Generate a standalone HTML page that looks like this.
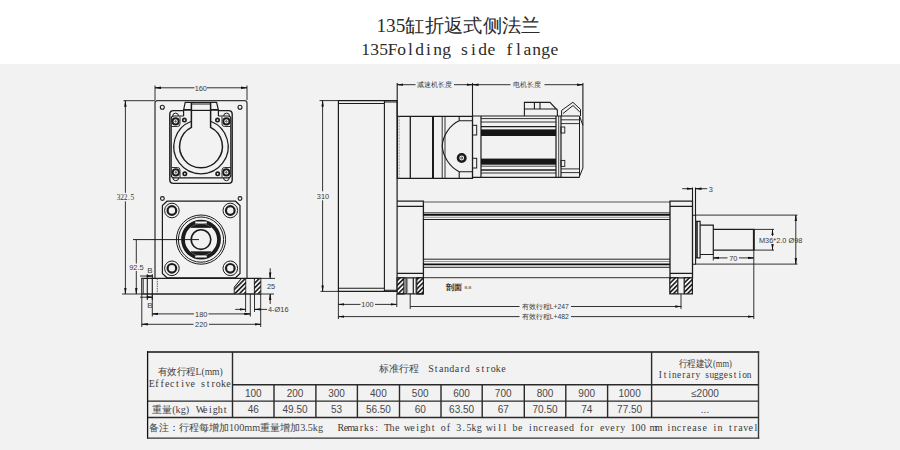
<!DOCTYPE html>
<html><head><meta charset="utf-8">
<style>
html,body{margin:0;padding:0;background:#fff;}
body{width:900px;height:450px;overflow:hidden;position:relative;}
svg{position:absolute;left:0;top:0;}
</style></head>
<body>
<svg width="900" height="450" viewBox="0 0 900 450">
<defs>
<marker id="ar" viewBox="0 0 10 4" refX="10" refY="2" markerWidth="6" markerHeight="3.2" orient="auto-start-reverse" markerUnits="userSpaceOnUse"><path d="M0,0L10,2L0,4z" fill="#111"/></marker>
<pattern id="hat" patternUnits="userSpaceOnUse" width="3.3" height="3.3" patternTransform="rotate(45)"><rect width="3.3" height="3.3" fill="#f4f4f4"/><line x1="0.8" y1="0" x2="0.8" y2="3.3" stroke="#111" stroke-width="1.5"/></pattern>
</defs>
<rect x="0" y="64" width="900" height="386" fill="#f2f2f2"/>
<g font-family="&quot;Liberation Serif&quot;, serif" fill="#2b2b2b">
<text x="376.4" y="32" font-size="19" textLength="164" lengthAdjust="spacingAndGlyphs">135缸折返式侧法兰</text>
</g>
<g font-family="Liberation Serif" font-size="17.5" fill="#2b2b2b" text-anchor="middle"><text x="365.50" y="54.6">1</text><text x="374.50" y="54.6">3</text><text x="383.50" y="54.6">5</text><text x="392.50" y="54.6">F</text><text x="401.50" y="54.6">o</text><text x="410.50" y="54.6">l</text><text x="419.50" y="54.6">d</text><text x="428.50" y="54.6">i</text><text x="437.50" y="54.6">n</text><text x="446.50" y="54.6">g</text><text x="464.50" y="54.6">s</text><text x="473.50" y="54.6">i</text><text x="482.50" y="54.6">d</text><text x="491.50" y="54.6">e</text><text x="509.50" y="54.6">f</text><text x="518.50" y="54.6">l</text><text x="527.50" y="54.6">a</text><text x="536.50" y="54.6">n</text><text x="545.50" y="54.6">g</text><text x="554.50" y="54.6">e</text></g>
<g font-family="Liberation Serif" font-size="7.4" fill="#333" text-anchor="middle"><text x="118.54" y="199.9">3</text><text x="122.02" y="199.9">2</text><text x="125.50" y="199.9">2</text><text x="128.98" y="199.9">.</text><text x="132.46" y="199.9">5</text></g>
<!-- LEFT VIEW -->
<g fill="none" stroke="#1c1c1c" stroke-width="1.2">
<!-- plate -->
<path d="M155,278.4V103Q155,100.7 157.3,100.7H244.7Q247,100.7 247,103V278.4" stroke="#3a3a3a" stroke-width="1.3"/>
<circle cx="162.3" cy="107.3" r="2" stroke-width="1.1"/><circle cx="240" cy="107.3" r="2" stroke-width="1.1"/>
<circle cx="162.4" cy="198.5" r="1.9" stroke-width="1.1"/><circle cx="240" cy="198.5" r="1.9" stroke-width="1.1"/>
<!-- socket housing outer -->
<path d="M183.6,110.6H173.4Q169.8,110.6 169.8,114.2V179.8Q169.8,183.4 173.4,183.4H228.6Q232.2,183.4 232.2,179.8V114.2Q232.2,110.6 228.6,110.6H218.4" stroke-width="1.4"/>
<path d="M183.6,116H174Q171.2,116 171.2,118.8V175Q171.2,177.8 174,177.8H228Q230.8,177.8 230.8,175V118.8Q230.8,116 228,116H218.4" stroke-width="1.2"/>
<!-- bumps -->
<path d="M172.7,116A2.9,2.9 0 0,1 178.5,116M223.7,116A2.9,2.9 0 0,1 229.5,116M172.9,177.8A2.9,2.9 0 0,0 178.7,177.8M223.5,177.8A2.9,2.9 0 0,0 229.3,177.8" stroke-width="1"/>
<!-- lid -->
<path d="M183.6,116V110L185.2,102.4H216.6L218.4,110V116" stroke-width="1.2"/>
<path d="M183.6,109.9H191.4M210.6,109.9H218.4" stroke-width="1.6"/>
<path d="M191.4,104H210.6" stroke-width="1"/>
<path d="M191.4,110.4H210.6" stroke-width="1.2"/>
<path d="M191.4,102.4V127.3A21.4,21.4 0 1,0 210.6,127.3V102.4" stroke-width="1.5"/>
<path d="M191.4,121.2A27.2,27.2 0 1,0 210.6,121.2" stroke-width="1.2"/>
<!-- screw pads -->
<path d="M180,116.5V124Q180,126.5 177.5,126.5H171.5M222,116.5V124Q222,126.5 224.5,126.5H230.5M180,177.3V170Q180,167.5 177.5,167.5H171.5M222,177.3V170Q222,167.5 224.5,167.5H230.5" stroke-width="0.9"/>
<circle cx="175.6" cy="121.4" r="3.1" stroke-width="1.9"/><circle cx="226.4" cy="121.4" r="3.1" stroke-width="1.9"/>
<circle cx="175.8" cy="172.4" r="3.1" stroke-width="1.9"/><circle cx="226.3" cy="172.4" r="3.1" stroke-width="1.9"/>
<circle cx="175.6" cy="121.4" r="0.7" stroke-width="0.8"/><circle cx="226.4" cy="121.4" r="0.7" stroke-width="0.8"/>
<circle cx="175.8" cy="172.4" r="0.7" stroke-width="0.8"/><circle cx="226.3" cy="172.4" r="0.7" stroke-width="0.8"/>
<circle cx="184.4" cy="120.1" r="1.7" stroke-width="1.6"/><circle cx="217.5" cy="120.1" r="1.7" stroke-width="1.6"/>
<circle cx="184.8" cy="173.8" r="1.7" stroke-width="1.6"/><circle cx="217.7" cy="173.8" r="1.7" stroke-width="1.6"/>
<!-- lower flange -->
<path d="M167,201.2H235.5L240,205.6V273.4L235.5,277.8H167L162.4,273.4V205.6Z" stroke-width="1.2"/>
<g stroke-width="1">
<circle cx="171.9" cy="210.5" r="7.3"/><circle cx="230.3" cy="210.5" r="7.3"/>
<circle cx="171.9" cy="268.3" r="7.3"/><circle cx="230.3" cy="268.3" r="7.3"/>
</g>
<g stroke-width="2.2">
<circle cx="171.9" cy="210.5" r="4.3"/><circle cx="230.3" cy="210.5" r="4.3"/>
<circle cx="171.9" cy="268.3" r="4.3"/><circle cx="230.3" cy="268.3" r="4.3"/>
</g>
<circle cx="201" cy="239.6" r="24.6" stroke-width="1"/>
<circle cx="201" cy="239.6" r="22.6" stroke-width="1"/>
<circle cx="201" cy="239.6" r="18" stroke-width="3.8"/>
<circle cx="201" cy="239.6" r="9.8" stroke-width="1.6"/>
<path d="M191,227.4H211A16,16 0 0,0 191,227.4ZM191,251.8H211A16,16 0 0,1 191,251.8Z" fill="#1c1c1c" stroke-width="0.8"/>
<path d="M195.2,222.6H206.8M195.2,256.6H206.8" stroke="#f2f2f2" stroke-width="2"/>
<!-- base plate -->
<path d="M141.8,278.4H260.7V294H141.8Z" stroke-width="1.2"/>
<path d="M143.4,278.4V294" stroke-width="1" stroke="#555"/>
<path d="M147.3,274.3V300M152.3,274.3V300" stroke-width="1.1"/>
<path d="M157.3,278.4V294" stroke-dasharray="1.6,0.8" stroke-width="0.9" stroke="#555"/>
<path d="M234.3,294V287.5L241.6,278.4" stroke-width="1.1"/>
<path d="M245.6,278.4V294M254.5,278.4V294" stroke-width="1.2"/>
</g>
<path d="M241.8,279H245.4V293.5H234.8V287.6Z" fill="url(#hat)"/>
<rect x="254.8" y="279" width="5.6" height="14.5" fill="url(#hat)"/>
<g fill="none" stroke="#1c1c1c" stroke-width="0.9">
<!-- dims left -->
<path d="M155,85.5V100M247,85.5V100"/>
<path d="M155,87.8H194.5M207,87.8H247"/>
<path d="M155,87.8H161" marker-start="url(#ar)"/><path d="M241,87.8H247" marker-end="url(#ar)"/>
<path d="M123.5,100.7H155"/>
<path d="M125.4,100.7V192.8M125.4,201.4V294"/>
<path d="M125.4,107V100.7" marker-end="url(#ar)"/><path d="M125.4,288V294" marker-end="url(#ar)"/>
<path d="M122,294H274"/>
<path d="M133,239.6H199" stroke-width="1"/>
<path d="M136.3,239.6V263.5M136.3,271V294"/><path d="M136.3,288V294" marker-end="url(#ar)"/>
<path d="M140,276H152.5"/><path d="M146.5,276H152.5" marker-end="url(#ar)"/>
<path d="M140,297.2H152.5"/><path d="M146.5,297.2H152.5" marker-end="url(#ar)"/>
<path d="M152.3,294V316.5M245.6,294V312M250.3,294V316.5M254.5,294V312M141.8,294V327M260.7,294V327"/>
<path d="M152.2,313.9H194M208.5,313.9H250.3"/><path d="M152.2,313.9H158" marker-start="url(#ar)"/><path d="M244.5,313.9H250.3" marker-end="url(#ar)"/>
<path d="M141.8,324.3H193.5M209,324.3H260.7"/><path d="M141.8,324.3H147.5" marker-start="url(#ar)"/><path d="M255,324.3H260.7" marker-end="url(#ar)"/>
<path d="M235.2,309.4H245.6"/><path d="M239.8,309.4H245.6" marker-end="url(#ar)"/>
<path d="M254.5,309.4H267"/><path d="M260.3,309.4H254.5" marker-end="url(#ar)"/>
<path d="M261,278.4H275"/>
<path d="M270.2,268.2V278.4"/><path d="M270.2,272.6V278.4" marker-end="url(#ar)"/>
<path d="M270.2,304V294"/><path d="M270.2,299.8V294" marker-end="url(#ar)"/>
</g>
<g font-family="Liberation Sans" font-size="7.4" fill="#3a3a3a">
<text x="200.8" y="90.6" text-anchor="middle">160</text>
<text x="136.4" y="270" text-anchor="middle">92.5</text>
<text x="150" y="273" text-anchor="middle" font-size="8">B</text>
<text x="150" y="307.5" text-anchor="middle" font-size="8">B</text>
<text x="201.2" y="316.6" text-anchor="middle">180</text>
<text x="201.2" y="327" text-anchor="middle">220</text>
<text x="268" y="312">4-Ø16</text>
<text x="271" y="289" text-anchor="middle">25</text>
</g>
<!-- RIGHT VIEW -->
<g fill="none" stroke="#1c1c1c" stroke-width="1.2">
<!-- housing -->
<path d="M338.4,100.6H397.1V291.4H338.4Z"/>
<path d="M338.4,103.5H384.4M384.4,102H397.1M384.4,100.6V291.4M338.4,288.2H384.4M384.4,290.2H397.1" stroke-width="1.1"/>
<!-- gearbox -->
<path d="M397.4,116.3H472.5V178.3H397.4Z" stroke-width="1.3"/>
<path d="M410.3,116.3V178.3" stroke-width="1.3"/>
<path d="M433,116.3V178.3" stroke-width="2"/>
<path d="M442.2,116.3V178.3M445,116.3V178.3" stroke-width="0.9"/>
<path d="M459.2,116.3V120.8C450,125 443,135 442.2,145.8C443,157 450,167 459.2,171.7V178.3M459.2,120.8H472.5M459.2,171.7H472.5" stroke-width="1.1"/>
<path d="M399.2,116.3V178.3" stroke="#888" stroke-width="0.8" stroke-dasharray="2,1"/>
<rect x="472.5" y="125.3" width="4.2" height="9.7" stroke-width="1"/><rect x="472.5" y="158.3" width="4.2" height="9.7" stroke-width="1"/>
<circle cx="461.7" cy="158" r="3.7" stroke-width="2.6"/><circle cx="461.7" cy="158" r="1" stroke-width="0.8"/>
<!-- motor -->
<path d="M472.5,116H579.5M579.5,177.4H472.5" stroke-width="1.2"/>
<path d="M481,116V177.4M556,116V177.4M561,116V177.4" stroke-width="1.2"/>
<path d="M558.7,116V177.4" stroke-width="0.8"/>
<path d="M481,118.6H556M481,122H556M481,173H556" stroke-width="0.9"/>
<path d="M481,126.6H556M481,170H556" stroke-width="1.3"/>
<path d="M481,166.2H556" stroke-width="0.8"/>
<path d="M579.5,116V177.4M579.5,116L582.9,125.5V168L579.5,176.4" stroke-width="1"/>
<path d="M561,119.8H579.5M561,123.6H579.5M561,168.9H579.5M561,172.6H579.5" stroke-width="0.9"/>
<path d="M524.4,116V102.4H550L557.4,110.3V116M534.4,102.4V109M540,102.4V109M524.4,109H557.4" stroke-width="1.1"/>
<path d="M561.6,116V110.4L572.9,102.3L580.5,109.4V116M563,113.5L573,105.5L579.8,112" stroke-width="1"/>
<rect x="561" y="127" width="3.8" height="6" stroke-width="0.9"/><rect x="561" y="160.4" width="3.8" height="6" stroke-width="0.9"/>
</g>
<rect x="481" y="129.4" width="75" height="6.6" fill="#161616"/>
<rect x="481" y="158.6" width="75" height="6.1" fill="#161616"/>
<g fill="none" stroke="#1c1c1c" stroke-width="1.2">
<!-- actuator -->
<path d="M397.1,201.2H423.4V277.8H397.1M397.1,206.4H423.4M397.1,273.3H423.4" stroke-width="1.3"/>
<path d="M423.4,202H670M423.4,277.6H670" stroke="#555" stroke-width="1.2"/>
<path d="M423.4,212.9H670M423.4,219.5H670M423.4,259.2H670M423.4,267.3H670" stroke="#222" stroke-width="1"/>
<path d="M423.4,214.8H670M423.4,264.4H670" stroke="#0e0e0e" stroke-width="1.7"/>
<path d="M423.4,217.3H670M423.4,261.5H670" stroke="#888" stroke-width="0.9"/>
<path d="M670,201.1H692.5V277.8H670ZM670,206.3H692.5M670,273.3H692.5" stroke-width="1.3"/>
<path d="M692.5,215.3H695.6V264.3H692.5" stroke-width="1.1"/>
<path d="M695.6,221.3H700.1V257.9H695.6" stroke-width="1.2"/>
<path d="M697,221.3V257.9" stroke-width="1.6"/>
<path d="M700.1,225.2H713.3V254.5H700.1" stroke-width="1.2"/>
<path d="M713.3,229.4H753.8V250.1H713.3" stroke-width="1.2"/>
<path d="M753.8,229.4V250.1" stroke-width="1.8"/>
</g>
<g stroke="#1c1c1c" stroke-width="1.2">
<rect x="397.1" y="277.8" width="6.8" height="16.1" fill="url(#hat)"/>
<rect x="416.7" y="277.8" width="6.7" height="16.1" fill="url(#hat)"/>
<path d="M397.1,293.9H423.4M406.1,277.8V293.9M413.3,277.8V293.9" fill="none"/>
<path d="M407.6,277.8V293.9M415.6,277.8V293.9" fill="none" stroke="#777" stroke-width="0.8"/>
<rect x="669.8" y="277.8" width="8" height="16.1" fill="url(#hat)"/>
<rect x="684.2" y="277.8" width="8.2" height="16.1" fill="url(#hat)"/>
<path d="M677.8,293.9H684.2" fill="none" stroke-width="1"/>
</g>
<g fill="none" stroke="#1c1c1c" stroke-width="0.9">
<!-- dims right -->
<path d="M319.5,100.6H338.4M320.5,291.4H338.4"/>
<path d="M322.6,100.6V191.3M322.6,200.3V291.4"/><path d="M322.6,107V100.6" marker-end="url(#ar)"/><path d="M322.6,285.4V291.4" marker-end="url(#ar)"/>
<path d="M397.2,83V116.3M472.5,83V116.3M582.9,83V125.5" stroke-width="1.1"/>
<path d="M397.2,84.7H415.5M454,84.7H472.5"/><path d="M403,84.7H397.2" marker-end="url(#ar)"/><path d="M466.7,84.7H472.5" marker-end="url(#ar)"/>
<path d="M472.5,84.7H510.5M544.5,84.7H582.9"/><path d="M478.3,84.7H472.5" marker-end="url(#ar)"/><path d="M577.1,84.7H582.9" marker-end="url(#ar)"/>
<path d="M338.4,291.4V319M396.8,293.9V307M410.2,294V309M681,293.9V309M753.8,250.1V319"/>
<path d="M338.4,304.4H360.5M375,304.4H396.6"/><path d="M344.2,304.4H338.4" marker-end="url(#ar)"/><path d="M390.8,304.4H396.6" marker-end="url(#ar)"/>
<path d="M410.2,306.5H519.5M571,306.5H681.3"/><path d="M675.5,306.5H681.3" marker-end="url(#ar)"/>
<path d="M338.4,316.6H519.5M571,316.6H753.8"/><path d="M344.2,316.6H338.4" marker-end="url(#ar)"/><path d="M748,316.6H753.8" marker-end="url(#ar)"/>
<path d="M692.5,187.5V201.1M695.5,187.5V215.3" stroke-width="1.1"/>
<path d="M682.2,188.7H692.5"/><path d="M686.7,188.7H692.5" marker-end="url(#ar)"/>
<path d="M695.5,188.7H707.2"/><path d="M701.3,188.7H695.5" marker-end="url(#ar)"/>
<path d="M695.6,215.1H797.4M695.6,264.1H797.4"/>
<path d="M795.8,215.1V264.1"/><path d="M795.8,221V215.1" marker-end="url(#ar)"/><path d="M795.8,258.3V264.1" marker-end="url(#ar)"/>
<path d="M753.8,229.4H774M753.8,250.1H774"/>
<path d="M772.5,229.4V236M772.5,244.5V250.1"/><path d="M772.5,235V229.4" marker-end="url(#ar)"/><path d="M772.5,244.5V250.1" marker-end="url(#ar)"/>
<path d="M713.3,254.5V260.5M713.3,257.9H727.5M739,257.9H753.8"/><path d="M719,257.9H713.3" marker-end="url(#ar)"/><path d="M748,257.9H753.8" marker-end="url(#ar)"/>
</g>
<g font-family="Liberation Sans" font-size="7.4" fill="#3a3a3a">
<text x="323" y="199" text-anchor="middle">310</text>
<text x="367.5" y="307.1" text-anchor="middle">100</text>
<text x="708.8" y="191.5">3</text>
<text x="733.3" y="260.6" text-anchor="middle">70</text>
<text x="780.7" y="243" text-anchor="middle">M36*2.0 Ø98</text>
<text x="446.4" y="289.8" font-size="8" font-weight="bold" fill="#333">剖面</text>
<text x="464.4" y="288.6" font-size="4.2">B-B</text>
<text x="545.3" y="309" text-anchor="middle" font-size="6.8">有效行程L+247</text>
<text x="545.3" y="319.4" text-anchor="middle" font-size="6.8">有效行程L+482</text>
<text x="434.7" y="87.3" text-anchor="middle" font-size="7.4">减速机长度</text>
<text x="527.3" y="87.3" text-anchor="middle" font-size="7.4">电机长度</text>
</g>
<!-- TABLE -->
<g fill="none" stroke="#2a2a2a">
<path d="M147,352H759.2" stroke="#4a4a4a" stroke-width="1.8"/><path d="M147.6,351.2V438.7" stroke="#111" stroke-width="1.3"/><path d="M758.5,351.2V438.7" stroke="#3a3a3a" stroke-width="1.4"/><path d="M147,438.1H759.2" stroke="#333" stroke-width="1.4"/>
<path d="M148,401.1H758.5M148,417.5H758.5M232.5,384.8H758.5" stroke-width="1.4"/>
<path d="M232.5,352V417.5M651.6,352V417.5M274,384.8V417.5M315.9,384.8V417.5M357.4,384.8V417.5M399.5,384.8V417.5M441,384.8V417.5M482.2,384.8V417.5M524.3,384.8V417.5M565.8,384.8V417.5M607.6,384.8V417.5" stroke-width="1.4"/>
</g>
<g font-family="Liberation Mono" fill="#444" font-size="8.5">
<text x="157.8" y="374.5" font-family="&quot;Liberation Serif&quot;, serif" font-size="10.2" textLength="65" lengthAdjust="spacingAndGlyphs">有效行程L(mm)</text>
<text x="152.2" y="413" font-family="&quot;Liberation Serif&quot;, serif" font-size="10.2">重量(kg)</text>
<text x="378.6" y="372" font-family="&quot;Liberation Serif&quot;, serif" font-size="10.2">标准行程</text>
<text x="678.7" y="366.5" font-family="&quot;Liberation Serif&quot;, serif" font-size="10" textLength="53.2" lengthAdjust="spacingAndGlyphs">行程建议(mm)</text>
<text x="149" y="431" font-family="&quot;Liberation Serif&quot;, serif" font-size="10.2">备注：行程每增加100mm重量增加3.5kg</text>
</g>
<g font-family="Liberation Sans" fill="#484848" font-size="10" text-anchor="middle">
<text x="253.3" y="397">100</text><text x="295" y="397">200</text><text x="336.6" y="397">300</text><text x="378.4" y="397">400</text><text x="420.2" y="397">500</text><text x="461.6" y="397">600</text><text x="503.2" y="397">700</text><text x="545" y="397">800</text><text x="586.7" y="397">900</text><text x="629.6" y="397">1000</text><text x="705" y="397">≤2000</text>
<text x="253.3" y="413">46</text><text x="295" y="413">49.50</text><text x="336.6" y="413">53</text><text x="378.4" y="413">56.50</text><text x="420.2" y="413">60</text><text x="461.6" y="413">63.50</text><text x="503.2" y="413">67</text><text x="545" y="413">70.50</text><text x="586.7" y="413">74</text><text x="629.6" y="413">77.50</text><text x="705" y="413">...</text>
</g>
<g font-family="Liberation Serif" font-size="10" fill="#3a3a3a" text-anchor="middle"><text x="151.86" y="387">E</text><text x="156.97" y="387">f</text><text x="162.08" y="387">f</text><text x="167.19" y="387">e</text><text x="172.31" y="387">c</text><text x="177.42" y="387">t</text><text x="182.53" y="387">i</text><text x="187.64" y="387">v</text><text x="192.76" y="387">e</text><text x="202.98" y="387">s</text><text x="208.09" y="387">t</text><text x="213.21" y="387">r</text><text x="218.32" y="387">o</text><text x="223.43" y="387">k</text><text x="228.54" y="387">e</text></g>
<g font-family="Liberation Serif" font-size="10" fill="#3a3a3a" text-anchor="middle"><text x="200.38" y="413">W</text><text x="205.35" y="413">e</text><text x="210.32" y="413">i</text><text x="215.28" y="413">g</text><text x="220.25" y="413">h</text><text x="225.22" y="413">t</text></g>
<g font-family="Liberation Serif" font-size="10" fill="#3a3a3a" text-anchor="middle"><text x="430.99" y="372.3">S</text><text x="436.17" y="372.3">t</text><text x="441.35" y="372.3">a</text><text x="446.53" y="372.3">n</text><text x="451.71" y="372.3">d</text><text x="456.89" y="372.3">a</text><text x="462.07" y="372.3">r</text><text x="467.25" y="372.3">d</text><text x="477.61" y="372.3">s</text><text x="482.79" y="372.3">t</text><text x="487.97" y="372.3">r</text><text x="493.15" y="372.3">o</text><text x="498.33" y="372.3">k</text><text x="503.51" y="372.3">e</text></g>
<g font-family="Liberation Serif" font-size="9.4" fill="#3a3a3a" text-anchor="middle"><text x="660.34" y="377.7">I</text><text x="665.01" y="377.7">t</text><text x="669.69" y="377.7">i</text><text x="674.36" y="377.7">n</text><text x="679.04" y="377.7">e</text><text x="683.71" y="377.7">r</text><text x="688.39" y="377.7">a</text><text x="693.06" y="377.7">r</text><text x="697.74" y="377.7">y</text><text x="707.09" y="377.7">s</text><text x="711.76" y="377.7">u</text><text x="716.44" y="377.7">g</text><text x="721.11" y="377.7">g</text><text x="725.79" y="377.7">e</text><text x="730.46" y="377.7">s</text><text x="735.14" y="377.7">t</text><text x="739.81" y="377.7">i</text><text x="744.49" y="377.7">o</text><text x="749.16" y="377.7">n</text></g>
<g font-family="Liberation Serif" font-size="10" fill="#3a3a3a" text-anchor="middle"><text x="340.86" y="431.3">R</text><text x="345.99" y="431.3">e</text><text x="351.11" y="431.3">m</text><text x="356.24" y="431.3">a</text><text x="361.36" y="431.3">r</text><text x="366.48" y="431.3">k</text><text x="371.61" y="431.3">s</text><text x="376.73" y="431.3">:</text><text x="386.98" y="431.3">T</text><text x="392.11" y="431.3">h</text><text x="397.23" y="431.3">e</text><text x="407.48" y="431.3">w</text><text x="412.60" y="431.3">e</text><text x="417.73" y="431.3">i</text><text x="422.85" y="431.3">g</text><text x="427.98" y="431.3">h</text><text x="433.10" y="431.3">t</text><text x="443.35" y="431.3">o</text><text x="448.47" y="431.3">f</text><text x="458.72" y="431.3">3</text><text x="463.85" y="431.3">.</text><text x="468.97" y="431.3">5</text><text x="474.10" y="431.3">k</text><text x="479.22" y="431.3">g</text><text x="489.47" y="431.3">w</text><text x="494.59" y="431.3">i</text><text x="499.72" y="431.3">l</text><text x="504.84" y="431.3">l</text><text x="515.09" y="431.3">b</text><text x="520.22" y="431.3">e</text><text x="530.46" y="431.3">i</text><text x="535.59" y="431.3">n</text><text x="540.71" y="431.3">c</text><text x="545.84" y="431.3">r</text><text x="550.96" y="431.3">e</text><text x="556.09" y="431.3">a</text><text x="561.21" y="431.3">s</text><text x="566.34" y="431.3">e</text><text x="571.46" y="431.3">d</text><text x="581.71" y="431.3">f</text><text x="586.83" y="431.3">o</text><text x="591.96" y="431.3">r</text><text x="602.21" y="431.3">e</text><text x="607.33" y="431.3">v</text><text x="612.45" y="431.3">e</text><text x="617.58" y="431.3">r</text><text x="622.70" y="431.3">y</text><text x="632.95" y="431.3">1</text><text x="638.08" y="431.3">0</text><text x="643.20" y="431.3">0</text><text x="653.45" y="431.3">m</text><text x="658.57" y="431.3">m</text><text x="668.82" y="431.3">i</text><text x="673.95" y="431.3">n</text><text x="679.07" y="431.3">c</text><text x="684.20" y="431.3">r</text><text x="689.32" y="431.3">e</text><text x="694.45" y="431.3">a</text><text x="699.57" y="431.3">s</text><text x="704.69" y="431.3">e</text><text x="714.94" y="431.3">i</text><text x="720.07" y="431.3">n</text><text x="730.32" y="431.3">t</text><text x="735.44" y="431.3">r</text><text x="740.56" y="431.3">a</text><text x="745.69" y="431.3">v</text><text x="750.81" y="431.3">e</text><text x="755.94" y="431.3">l</text></g>
</svg></body></html>
